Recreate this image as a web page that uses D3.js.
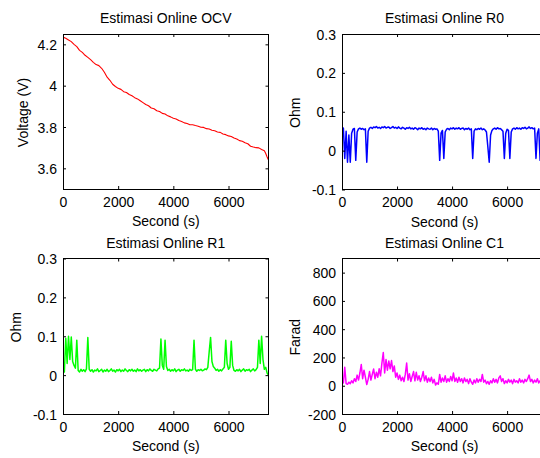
<!DOCTYPE html>
<html>
<head>
<meta charset="utf-8">
<script src="https://cdn.jsdelivr.net/npm/d3@7"></script>
<style>
  body { margin: 0; background: #fff; }
  svg text { font-family: "Liberation Sans", Arial, sans-serif; font-size: 14px; fill: #000; }
</style>
</head>
<body>
<div id="chart"></div>
<script>
// --- data ---
const xTicks = [0, 2000, 4000, 6000]
const timeStep = 50 // s between samples of the R0 / R1 / C1 traces

const ocvTime = [0, 100, 200, 300, 400, 500, 600, 700, 800, 900, 1000, 1100, 1200, 1300, 1400, 1500, 1600, 1700, 1800, 1900,
  2000, 2100, 2200, 2300, 2400, 2500, 2600, 2700, 2800, 2900, 3000, 3100, 3200, 3300, 3400, 3500, 3600, 3700, 3800, 3900,
  4000, 4100, 4200, 4300, 4400, 4500, 4600, 4700, 4800, 4900, 5000, 5100, 5200, 5300, 5400, 5500, 5600, 5700, 5800, 5900,
  6000, 6100, 6200, 6300, 6400, 6500, 6600, 6700, 6800, 6900, 7000, 7100, 7200, 7300, 7350, 7400, 7450]
const ocvValues = [4.235, 4.229, 4.221, 4.213, 4.200, 4.189, 4.171, 4.161, 4.147, 4.137, 4.126, 4.113, 4.102, 4.097, 4.084, 4.065, 4.041, 4.026, 4.007, 3.996,
  3.987, 3.982, 3.971, 3.967, 3.957, 3.951, 3.942, 3.936, 3.927, 3.918, 3.909, 3.903, 3.892, 3.888, 3.879, 3.875, 3.866, 3.863, 3.854, 3.849,
  3.842, 3.839, 3.831, 3.827, 3.820, 3.817, 3.811, 3.811, 3.807, 3.804, 3.799, 3.798, 3.792, 3.790, 3.784, 3.782, 3.776, 3.774, 3.766, 3.763,
  3.757, 3.754, 3.747, 3.742, 3.734, 3.731, 3.724, 3.719, 3.707, 3.703, 3.700, 3.699, 3.691, 3.685, 3.672, 3.655, 3.640]

const r0Values = [
  0.060, 0.058, -0.020, 0.050, -0.030, 0.040, -0.030, 0.045, 0.055, 0.057,
  -0.025, 0.048, 0.056, 0.058, 0.055, 0.057, 0.054, 0.056, -0.030, 0.050,
  0.058, 0.060, 0.057, 0.061, 0.059, 0.062, 0.058, 0.060, 0.057, 0.061,
  0.059, 0.062, 0.058, 0.060, 0.061, 0.057, 0.059, 0.062, 0.058, 0.060,
  0.057, 0.061, 0.058, 0.056, 0.060, 0.058, 0.055, 0.059, 0.057, 0.060,
  0.056, 0.058, 0.055, 0.059, 0.057, 0.054, 0.058, 0.056, 0.059, 0.055,
  0.057, 0.054, 0.058, 0.056, 0.055, 0.058, 0.054, 0.057, 0.055, 0.056,
  0.050, -0.025, 0.045, 0.052, -0.020, 0.048, 0.055, 0.057, 0.054, 0.058,
  0.056, 0.059, 0.055, 0.058, 0.056, 0.059, 0.055, 0.057, 0.058, 0.054,
  0.057, 0.055, 0.058, 0.054, 0.056, -0.020, 0.050, 0.056, 0.054, 0.057,
  0.055, 0.058, 0.054, 0.056, 0.053, 0.048, 0.010, -0.030, 0.040, 0.052,
  0.056, 0.058, 0.055, 0.059, 0.056, 0.057, 0.054, 0.050, -0.020, 0.045,
  0.055, 0.052, -0.020, 0.048, 0.056, 0.058, 0.055, 0.059, 0.056, 0.058,
  0.055, 0.059, 0.057, 0.060, 0.056, 0.058, 0.061, 0.057, 0.059, 0.056,
  0.058, -0.020, 0.045, 0.056, -0.025, 0.040, 0.055, 0.050, 0.045, 0.040]

const r1Values = [
  0.020, 0.008, 0.095, 0.030, 0.100, 0.040, 0.098, 0.035, 0.025, 0.018,
  0.090, 0.012, 0.008, 0.015, 0.010, 0.014, 0.009, 0.016, 0.097, 0.015,
  0.010, 0.014, 0.008, 0.013, 0.011, 0.016, 0.009, 0.012, 0.015, 0.008,
  0.013, 0.010, 0.015, 0.009, 0.012, 0.016, 0.010, 0.013, 0.008, 0.014,
  0.011, 0.015, 0.009, 0.013, 0.010, 0.016, 0.012, 0.009, 0.014, 0.011,
  0.015, 0.010, 0.013, 0.009, 0.016, 0.011, 0.014, 0.010, 0.013, 0.015,
  0.009, 0.014, 0.011, 0.016, 0.012, 0.010, 0.015, 0.013, 0.011, 0.016,
  0.018, 0.093, 0.025, 0.015, 0.090, 0.022, 0.012, 0.015, 0.010, 0.014,
  0.011, 0.016, 0.009, 0.013, 0.015, 0.010, 0.014, 0.012, 0.016, 0.011,
  0.013, 0.010, 0.015, 0.012, 0.014, 0.090, 0.015, 0.010, 0.014, 0.012,
  0.015, 0.011, 0.013, 0.016, 0.014, 0.020, 0.060, 0.097, 0.035, 0.022,
  0.018, 0.012, 0.015, 0.010, 0.014, 0.011, 0.016, 0.020, 0.090, 0.030,
  0.015, 0.020, 0.087, 0.025, 0.012, 0.010, 0.014, 0.011, 0.015, 0.009,
  0.013, 0.016, 0.010, 0.014, 0.012, 0.015, 0.009, 0.013, 0.016, 0.011,
  0.014, 0.020, 0.090, 0.030, 0.100, 0.040, 0.015, 0.020, 0.005, 0.000]

const c1Values = [
  55, 20, 130, 15, 10, 25, 15, 35, 20, 50,
  30, 75, 40, 90, 150, 50, 110, 60, 8, 45,
  100, 40, 80, 118, 50, 95, 60, 120, 70, 160,
  235, 90, 185, 110, 175, 120, 178, 100, 140, 60,
  90, 45, 75, 35, 60, 30, 80, 160, 40, 85,
  30, 65, 100, 35, 95, 40, 70, 30, 60, 100,
  35, 70, 25, 55, 30, 60, 20, 45, 5, 20,
  10, 80, 25, 55, 30, 70, 25, 50, 30, 65,
  35, 90, 30, 55, 25, 60, 30, 50, 20, 55,
  30, 45, 15, 50, 25, 10, 40, 20, 50, 25,
  45, 30, 80, 25, 40, 15, 30, 10, 35, 20,
  50, 25, 45, 20, 55, 70, 30, 50, 15, 35,
  20, 45, 25, 40, 15, 45, 25, 35, 20, 50,
  25, 40, 20, 45, 30, 50, 75, 30, 45, 20,
  40, 25, 50, 20, 35, 15, 40, 20, 30, 25]

const ocvTicks = [3.6, 3.8, 4, 4.2]
const ohmTicks = [-0.1, 0, 0.1, 0.2, 0.3]
const faradTicks = [-200, 0, 200, 400, 600, 800]

const titles = ['Estimasi Online OCV', 'Estimasi Online R0', 'Estimasi Online R1', 'Estimasi Online C1']
const yLabels = ['Voltage (V)', 'Ohm', 'Ohm', 'Farad']
const xLabel = 'Second (s)'

// --- layout ---
const width = 540, height = 458
const xMax = 7450
const sampleTimes = r0Values.map((v, i) => i * timeStep)

const panels = [
  { left: 63, top: 34, w: 205.5, h: 155, yDomain: [3.5, 4.25], ticks: ocvTicks, color: '#ff0000', lw: 1.1,
    times: ocvTime, values: ocvValues, title: titles[0], ylabel: yLabels[0], ylabelX: 28, ylabelDy: 1 },
  { left: 342, top: 34, w: 205, h: 155.5, yDomain: [-0.1, 0.3], ticks: ohmTicks, color: '#0000ff', lw: 1.5,
    times: sampleTimes, values: r0Values, title: titles[1], ylabel: yLabels[1], ylabelX: 300, ylabelDy: 1 },
  { left: 63, top: 258.5, w: 205.5, h: 155.5, yDomain: [-0.1, 0.3], ticks: ohmTicks, color: '#00ff00', lw: 1.5,
    times: sampleTimes, values: r1Values, title: titles[2], ylabel: yLabels[2], ylabelX: 21, ylabelDy: -9 },
  { left: 342, top: 258.5, w: 205, h: 155.5, yDomain: [-200, 900], ticks: faradTicks, color: '#ff00ff', lw: 1.5,
    times: sampleTimes, values: c1Values, title: titles[3], ylabel: yLabels[3], ylabelX: 300, ylabelDy: 1 }
]

const svg = d3.select('#chart')
  .append('svg')
    .attr('width', width)
    .attr('height', height)

svg.append('rect').attr('width', width).attr('height', height).attr('fill', '#fff')

panels.forEach((p, k) => {
  const x = d3.scaleLinear().domain([0, xMax]).range([0, p.w])
  const y = d3.scaleLinear().domain(p.yDomain).range([p.h, 0])

  const g = svg.append('g').attr('transform', `translate(${p.left},${p.top})`)

  g.append('clipPath').attr('id', 'clip' + k)
    .append('rect').attr('width', p.w).attr('height', p.h)

  // the trace
  const line = d3.line()
    .x((d, i) => x(p.times[i]))
    .y(d => y(d))
  g.append('path')
    .datum(p.values)
    .attr('clip-path', `url(#clip${k})`)
    .attr('fill', 'none')
    .attr('stroke', p.color)
    .attr('stroke-width', p.lw)
    .attr('stroke-linejoin', 'round')
    .attr('d', line)

  // axes, ticks pointing inward like matlab
  const fmt = d => String(d).replace('\u2212', '-')
  g.append('g').attr('transform', `translate(0,${p.h})`)
    .call(d3.axisBottom(x).tickValues(xTicks).tickSizeInner(-3).tickSizeOuter(0).tickPadding(8).tickFormat(fmt))
  const left = g.append('g')
    .call(d3.axisLeft(y).tickValues(p.ticks).tickSizeInner(-3).tickSizeOuter(0).tickPadding(6).tickFormat(fmt))
  g.append('g')
    .call(d3.axisTop(x).tickValues(xTicks).tickSizeInner(-3).tickSizeOuter(0).tickFormat(''))
  g.append('g').attr('transform', `translate(${p.w},0)`)
    .call(d3.axisRight(y).tickValues(p.ticks).tickSizeInner(-3).tickSizeOuter(0).tickFormat(''))

  g.selectAll('.domain').remove()
  g.selectAll('.tick line').attr('stroke', '#000')
  g.selectAll('.tick text').attr('font-size', null).attr('font-family', null)
  left.selectAll('.tick text').attr('dy', '0.36em')

  g.append('rect')
    .attr('width', p.w).attr('height', p.h)
    .attr('fill', 'none').attr('stroke', '#000').attr('stroke-width', 1)
    .attr('shape-rendering', 'crispEdges')

  g.append('text')
    .attr('x', p.w / 2).attr('y', -11)
    .attr('text-anchor', 'middle')
    .text(p.title)

  g.append('text')
    .attr('x', p.w / 2).attr('y', p.h + 37)
    .attr('text-anchor', 'middle')
    .text(xLabel)

  svg.append('text')
    .attr('transform', `translate(${p.ylabelX},${p.top + p.h / 2 + p.ylabelDy}) rotate(-90)`)
    .attr('text-anchor', 'middle')
    .text(p.ylabel)
})
</script>
</body>
</html>
